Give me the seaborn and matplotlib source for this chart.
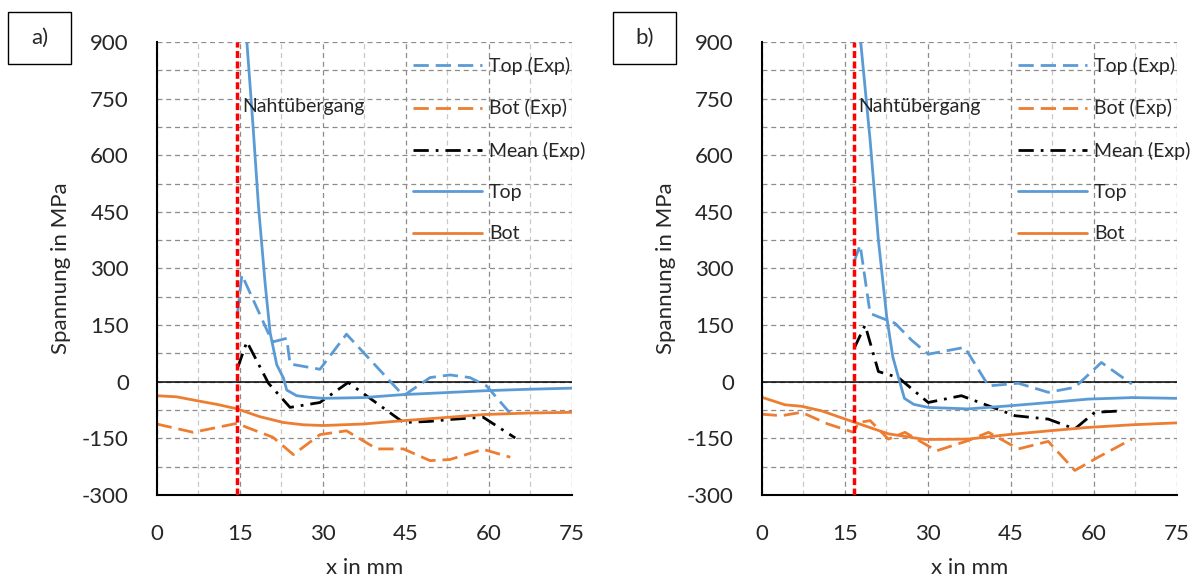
import numpy as np
import pandas as pd
import matplotlib
matplotlib.use("Agg")
import matplotlib.pyplot as plt
import seaborn as sns
from matplotlib.ticker import MultipleLocator
from matplotlib.patches import Rectangle

# ---- data ----
# panel a
a_weld = 14.6
a_top_exp_x = [14.6, 15.4, 20.2, 21.1, 23.5, 24.1, 29.5, 34.3, 44.6, 49.4, 53.0, 56.6, 59.6, 64.5]
a_top_exp_y = [181, 283, 128, 106, 115, 47, 33, 126, -37, 11, 18, 11, -11, -94]
a_bot_exp_x = [0, 6.6, 14.6, 16.3, 21.0, 24.7, 29.5, 34.3, 39.8, 44.6, 49.4, 53.0, 59.0, 63.9]
a_bot_exp_y = [-112, -134, -110, -121, -147, -193, -140, -130, -178, -178, -209, -206, -179, -200]
a_mean_exp_x = [14.6, 16.3, 20.2, 24.1, 29.5, 34.6, 44.6, 49.4, 53.0, 59.0, 64.8]
a_mean_exp_y = [36, 106, -4, -68, -55, -2, -108, -105, -100, -94, -149]
a_top_fe_x = [16.3, 17.4, 18.4, 19.6, 20.5, 21.7, 22.9, 23.5, 25.3, 27.5, 30.1, 37.3, 44.6, 52, 59, 67, 75]
a_top_fe_y = [900, 680, 464, 260, 130, 45, 10, -22, -37, -41, -44, -42, -34, -29, -24, -20, -17]
a_bot_fe_x = [0, 3.6, 7.2, 10.9, 14.6, 18.5, 22.9, 26.5, 30.1, 37.3, 44.6, 52, 59, 67, 75]
a_bot_fe_y = [-37, -40, -50, -60, -72, -92, -108, -114, -116, -112, -103, -95, -87, -83, -81]

# panel b
b_weld = 16.7
b_top_exp_x = [16.7, 17.8, 19.6, 21.1, 24.1, 27.1, 30.1, 36.7, 41.0, 46.4, 51.8, 56.6, 61.4, 66.9]
b_top_exp_y = [318, 362, 181, 172, 155, 110, 73, 91, -11, -4, -28, -15, 51, -6]
b_bot_exp_x = [0, 3.6, 7.2, 12.0, 16.6, 17.5, 19.6, 22.9, 25.9, 31.6, 37.3, 41.0, 46.4, 51.8, 56.6, 60.8, 66.9]
b_bot_exp_y = [-86, -90, -81, -112, -134, -108, -103, -152, -134, -183, -156, -134, -178, -158, -235, -200, -152]
b_mean_exp_x = [16.7, 18.7, 21.1, 24.7, 30.1, 36.1, 45.8, 51.8, 56.6, 60.2, 65.4]
b_mean_exp_y = [88, 150, 27, 11, -55, -37, -90, -99, -125, -81, -77]
b_top_fe_x = [17.9, 19.6, 21.1, 22.6, 23.7, 24.7, 25.8, 27.5, 30.1, 37.3, 44.6, 52, 59, 67, 75]
b_top_fe_y = [900, 640, 375, 172, 66, 13, -44, -60, -68, -72, -64, -55, -46, -42, -44]
b_bot_fe_x = [0, 4.2, 7.2, 10.8, 16.9, 22.9, 29.5, 37.3, 44.6, 52, 59, 67, 75]
b_bot_fe_y = [-41, -61, -65, -77, -108, -138, -153, -152, -140, -130, -121, -114, -109]

blue = "#5B9BD5"
orange = "#ED7D31"

sns.set_style("white")
plt.rcParams['font.family'] = ['Lato', 'DejaVu Sans']
plt.rcParams['axes.unicode_minus'] = False

fig = plt.figure(figsize=(11.97, 5.79), dpi=100)


def draw_panel(ax, weld, top_exp, bot_exp, mean_exp, top_fe, bot_fe):
    series = [
        (top_exp, "Top (Exp)", blue, (0, (5.5, 2.5))),
        (bot_exp, "Bot (Exp)", orange, (0, (5.5, 2.5))),
        (mean_exp, "Mean (Exp)", "black", (0, (5.5, 2.5, 1, 2.5))),
        (top_fe, "Top", blue, "-"),
        (bot_fe, "Bot", orange, "-"),
    ]
    for (xs, ys), lab, col, ls in series:
        df = pd.DataFrame({"x": xs, "y": ys})
        sns.lineplot(data=df, x="x", y="y", ax=ax, color=col, linestyle=ls,
                     linewidth=2, label=lab, sort=False)

    ax.axhline(0, color="black", lw=1.1, zorder=1)
    ax.axvline(weld, color="red", lw=2.5, ls=(0, (2, 1)), zorder=5)
    ax.text(weld + 0.8, 729, "Nahtübergang", fontsize=14, va="center", ha="left")

    ax.set_xlim(0, 75)
    ax.set_ylim(-300, 900)
    ax.xaxis.set_major_locator(MultipleLocator(15))
    ax.xaxis.set_minor_locator(MultipleLocator(7.5))
    ax.yaxis.set_major_locator(MultipleLocator(150))
    ax.yaxis.set_minor_locator(MultipleLocator(75))
    ax.xaxis.grid(True, which="major", color="#8c8c8c", ls=(0, (4, 3)), lw=0.9)
    ax.xaxis.grid(True, which="minor", color="#c8c8c8", ls=(0, (4, 3)), lw=0.9)
    ax.yaxis.grid(True, which="both", color="#8c8c8c", ls=(0, (4, 3)), lw=0.9)
    ax.set_axisbelow(True)

    for s in ["top", "right"]:
        ax.spines[s].set_visible(False)
    for s in ["left", "bottom"]:
        ax.spines[s].set_color("black")
        ax.spines[s].set_linewidth(1.5)

    ax.tick_params(axis="x", which="both", length=0, pad=21, labelsize=16)
    ax.tick_params(axis="y", which="both", length=4, color="#8c8c8c", pad=16, labelsize=16)

    ax.set_xlabel("x in mm", fontsize=16, labelpad=10)
    ax.set_ylabel("Spannung in MPa", fontsize=16, labelpad=8)

    ax.legend(loc="upper left", bbox_to_anchor=(0.618, 0.967), frameon=False,
              fontsize=14, handlelength=3.55, labelspacing=1.25, handletextpad=0.36,
              borderpad=0, borderaxespad=0)


ax_a = fig.add_axes([0.1309, 0.1451, 0.3467, 0.7824])
draw_panel(ax_a, a_weld, (a_top_exp_x, a_top_exp_y), (a_bot_exp_x, a_bot_exp_y),
           (a_mean_exp_x, a_mean_exp_y), (a_top_fe_x, a_top_fe_y), (a_bot_fe_x, a_bot_fe_y))

ax_b = fig.add_axes([0.6363, 0.1451, 0.3467, 0.7824])
draw_panel(ax_b, b_weld, (b_top_exp_x, b_top_exp_y), (b_bot_exp_x, b_bot_exp_y),
           (b_mean_exp_x, b_mean_exp_y), (b_top_fe_x, b_top_fe_y), (b_bot_fe_x, b_bot_fe_y))

# panel labels in boxes
for x0, lab in [(8, "a)"), (613, "b)")]:
    fig.add_artist(Rectangle((x0 / 1197, 1 - 64 / 579), 63 / 1197, 52 / 579,
                             transform=fig.transFigure, fc="white", ec="black", lw=1))
    fig.text((x0 + 31.5) / 1197, 1 - 38 / 579, lab, fontsize=16, ha="center", va="center")

fig.savefig("out.png", dpi=100)
